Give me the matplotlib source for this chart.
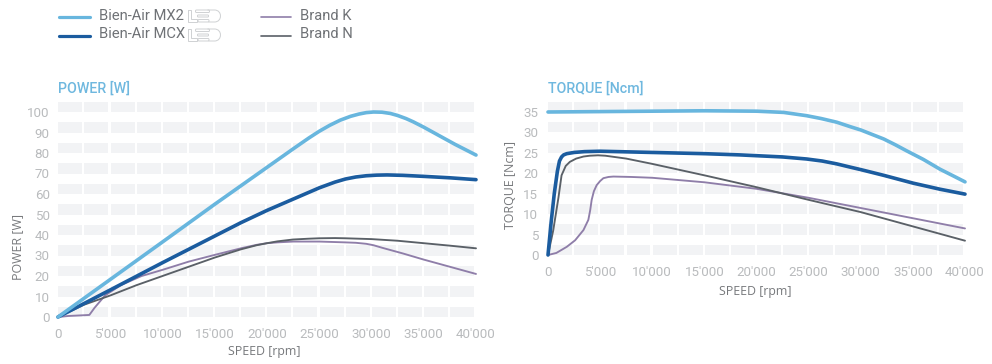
import matplotlib
matplotlib.use("Agg")
import matplotlib.pyplot as plt
from matplotlib.patches import Rectangle, FancyBboxPatch, PathPatch
from matplotlib.path import Path

plt.rcParams['font.family'] = ['Roboto', 'DejaVu Sans']

W, H = 992, 364

# ---------- data ----------
power_ticks = [0, 10, 20, 30, 40, 50, 60, 70, 80, 90, 100]
torque_ticks = [0, 5, 10, 15, 20, 25, 30, 35]
speed_ticks = [0, 5000, 10000, 15000, 20000, 25000, 30000, 35000, 40000]
speed_labels = ["0", "5'000", "10'000", "15'000", "20'000", "25'000", "30'000", "35'000", "40'000"]

p_mx2_x = [0, 5000, 10000, 15000, 20000, 22500, 24000, 25000, 26000, 27000, 28000, 28800, 29500, 30200, 31000, 31800, 32500, 33300, 34000, 35000, 36500, 38000, 40000]
p_mx2_y = [0, 18.3, 36.6, 55, 73, 82, 87.3, 90.6, 93.5, 96, 97.9, 99, 99.7, 100, 99.9, 99.3, 98.3, 96.8, 95.2, 92.6, 88.4, 84.2, 79]
p_mcx_x = [0, 5000, 10000, 15000, 17500, 20000, 22500, 25000, 26500, 27500, 28500, 29500, 30500, 31500, 33000, 35000, 37500, 40000]
p_mcx_y = [0, 13.2, 26.5, 39.5, 46, 52, 57.5, 63, 65.8, 67.3, 68.3, 68.9, 69.2, 69.3, 69.1, 68.6, 67.9, 67]
p_k_x = [0, 1000, 3000, 3500, 4500, 6000, 8000, 10000, 12500, 15000, 17500, 19000, 20000, 21000, 22500, 25000, 27500, 28500, 29500, 30200, 31000, 33000, 35000, 37500, 40000]
p_k_y = [0, 0.5, 1, 4.5, 10.5, 15.5, 20, 23, 27, 30.3, 33.5, 35.2, 36, 36.4, 36.8, 36.8, 36.4, 36.2, 35.7, 35, 33.8, 31, 28, 24.5, 21]
p_n_x = [0, 2500, 5000, 7500, 10000, 12500, 15000, 17500, 19000, 20000, 21000, 22500, 24000, 25000, 26500, 27500, 30000, 32500, 35000, 37500, 40000]
p_n_y = [0, 6, 10.5, 15.5, 20, 24.5, 29, 33, 35, 36, 36.9, 37.8, 38.2, 38.4, 38.5, 38.4, 38, 37.2, 36, 34.8, 33.5]

t_mx2_x = [0, 5000, 10000, 15000, 20000, 22600, 24800, 26200, 27700, 29000, 30000, 31000, 32200, 33300, 34400, 36000, 37600, 39000, 40000]
t_mx2_y = [35, 35.1, 35.2, 35.3, 35.2, 34.9, 34.1, 33.4, 32.5, 31.4, 30.6, 29.6, 28.4, 27, 25.5, 23.4, 21, 19.2, 17.9]
t_mcx_x = [0, 300, 600, 900, 1100, 1300, 1500, 1800, 2500, 3500, 5000, 10000, 15000, 18400, 22500, 24800, 26300, 27700, 29000, 30000, 32200, 35000, 37600, 40000]
t_mcx_y = [0, 8, 15, 20.5, 23, 24, 24.5, 24.8, 25.1, 25.3, 25.4, 25.1, 24.8, 24.5, 24, 23.5, 23, 22.3, 21.5, 20.9, 19.5, 17.6, 16.1, 14.9]
t_k_x = [0, 800, 1800, 2600, 3400, 3870, 4050, 4190, 4400, 4670, 5000, 5310, 5800, 6270, 8000, 10000, 15000, 20000, 25000, 30000, 35000, 40000]
t_k_y = [0, 0.5, 2, 3.6, 6.1, 8.6, 11, 13.5, 15.6, 17.1, 18.1, 18.8, 19.1, 19.2, 19.1, 18.9, 17.8, 16.2, 14, 11.5, 9, 6.5]
t_n_x = [0, 500, 1000, 1300, 1700, 2100, 2700, 3400, 4000, 4800, 5500, 7500, 10000, 15000, 20000, 25000, 30000, 35000, 40000]
t_n_y = [0, 6, 14, 19.5, 21.8, 22.8, 23.6, 24.1, 24.3, 24.4, 24.3, 23.6, 22.3, 19.5, 16.6, 13.5, 10.5, 7, 3.5]

C_MX2, C_MCX, C_K, C_N = "#68b6de", "#1b5c9f", "#8f7ea9", "#5a6067"
C_BAND, C_TICK, C_TXT = "#f2f3f5", "#b9bbbd", "#77797c"
LW = {"mx2": 2.6, "mcx": 2.6, "k": 1.35, "n": 1.35}

fig = plt.figure(figsize=(W / 100, H / 100), dpi=100)


def make_axes(x0, x1, ytop, ybot, ymax):
    ax = fig.add_axes([x0 / W, 1 - ybot / H, (x1 - x0) / W, (ybot - ytop) / H])
    ax.set_xlim(0, 40000)
    ax.set_ylim(0, ymax)
    for s in ax.spines.values():
        s.set_visible(False)
    ax.patch.set_alpha(0)
    return ax


def bands(ax, step, top):
    y = 0
    while y < top:
        for i in range(16):
            ax.add_patch(Rectangle((i * 2500 + 30, y), 2300, step / 2, fc=C_BAND, ec="none", zorder=0, clip_on=False))
        y += step


def finish(ax, yticks, ypad):
    ax.set_xticks(speed_ticks, speed_labels)
    ax.set_yticks(yticks)
    ax.tick_params(length=0, labelcolor=C_TICK, labelsize=9.6, pad=8)
    ax.tick_params(axis='y', pad=ypad)


def draw(ax, x, y, col, lw, z):
    ax.plot(x, y, color=col, lw=lw, zorder=z, clip_on=False, solid_joinstyle="round", solid_capstyle="round")


# Left: power
ax1 = make_axes(58, 476, 112, 317, 100)
bands(ax1, 10, 105)
draw(ax1, p_k_x, p_k_y, C_K, LW["k"], 3)
draw(ax1, p_n_x, p_n_y, C_N, LW["n"], 4)
draw(ax1, p_mcx_x, p_mcx_y, C_MCX, LW["mcx"], 5)
draw(ax1, p_mx2_x, p_mx2_y, C_MX2, LW["mx2"], 6)
finish(ax1, power_ticks, 6)

# Right: torque
ax2 = make_axes(548, 965, 112, 255, 35)
bands(ax2, 5, 37.5)
draw(ax2, t_k_x, t_k_y, C_K, LW["k"], 3)
draw(ax2, t_n_x, t_n_y, C_N, LW["n"], 4)
draw(ax2, t_mcx_x, t_mcx_y, C_MCX, LW["mcx"], 5)
draw(ax2, t_mx2_x, t_mx2_y, C_MX2, LW["mx2"], 6)
finish(ax2, torque_ticks, 7)

# Overlay in pixel coordinates for legend and captions
ov = fig.add_axes([0, 0, 1, 1])
ov.set_xlim(0, W)
ov.set_ylim(H, 0)
ov.axis("off")
ov.patch.set_alpha(0)

CAP = dict(color=C_TXT, fontsize=8.9, va="center", ha="center", family=["Open Sans", "DejaVu Sans"])
ov.text(58, 88.5, "POWER [W]", color="#6fb8df", fontsize=10.3, fontweight="medium", va="center", ha="left")
ov.text(548, 88.5, "TORQUE [Ncm]", color="#6fb8df", fontsize=10.3, fontweight="medium", va="center", ha="left")
ov.text(264, 352, "SPEED [rpm]", **CAP)
ov.text(755, 292, "SPEED [rpm]", **CAP)
ov.text(18, 247, "POWER [W]", rotation=90, **CAP)
ov.text(510, 185, "TORQUE [Ncm]", rotation=90, **CAP)

legend = [
    (59, 90, 99, 16.5, "Bien-Air MX2", C_MX2, 2.3),
    (59, 90, 99, 35.5, "Bien-Air MCX", C_MCX, 2.3),
    (261, 291, 300, 16.5, "Brand K", C_K, 1.2),
    (261, 291, 300, 35.5, "Brand N", C_N, 1.2),
]
for x0, x1, tx, y, label, col, lw in legend:
    ov.plot([x0, x1], [y, y], color=col, lw=lw, solid_capstyle="round")
    ov.text(tx, y - 1, label, color="#6f7276", fontsize=10.6, va="center", ha="left")


def led_icon(x, y):
    kw = dict(fc="none", ec="#cfd1d3", lw=0.7)
    t, b = y - 6, y + 6
    # L
    ov.add_patch(PathPatch(Path([(x, t), (x + 3, t), (x + 3, b - 3), (x + 9, b - 3), (x + 9, b), (x, b), (x, t)]), **kw))
    # E
    ov.add_patch(FancyBboxPatch((x + 8, t), 14, 2.5, boxstyle="round,pad=0,rounding_size=1", **kw))
    ov.add_patch(FancyBboxPatch((x + 10, y - 1), 11, 2, boxstyle="round,pad=0,rounding_size=0.8", **kw))
    ov.add_patch(FancyBboxPatch((x + 10.5, b - 2.5), 11, 2.5, boxstyle="round,pad=0,rounding_size=1", **kw))
    # D
    codes = [Path.MOVETO, Path.LINETO, Path.CURVE4, Path.CURVE4, Path.CURVE4, Path.LINETO]
    ov.add_patch(PathPatch(Path([(x + 20, t), (x + 27, t), (x + 35, t), (x + 35, b), (x + 27, b), (x + 21, b)], codes), **kw))


led_icon(187.5, 16)
led_icon(187.5, 35)

fig.savefig("out.png", dpi=100, facecolor="white")
